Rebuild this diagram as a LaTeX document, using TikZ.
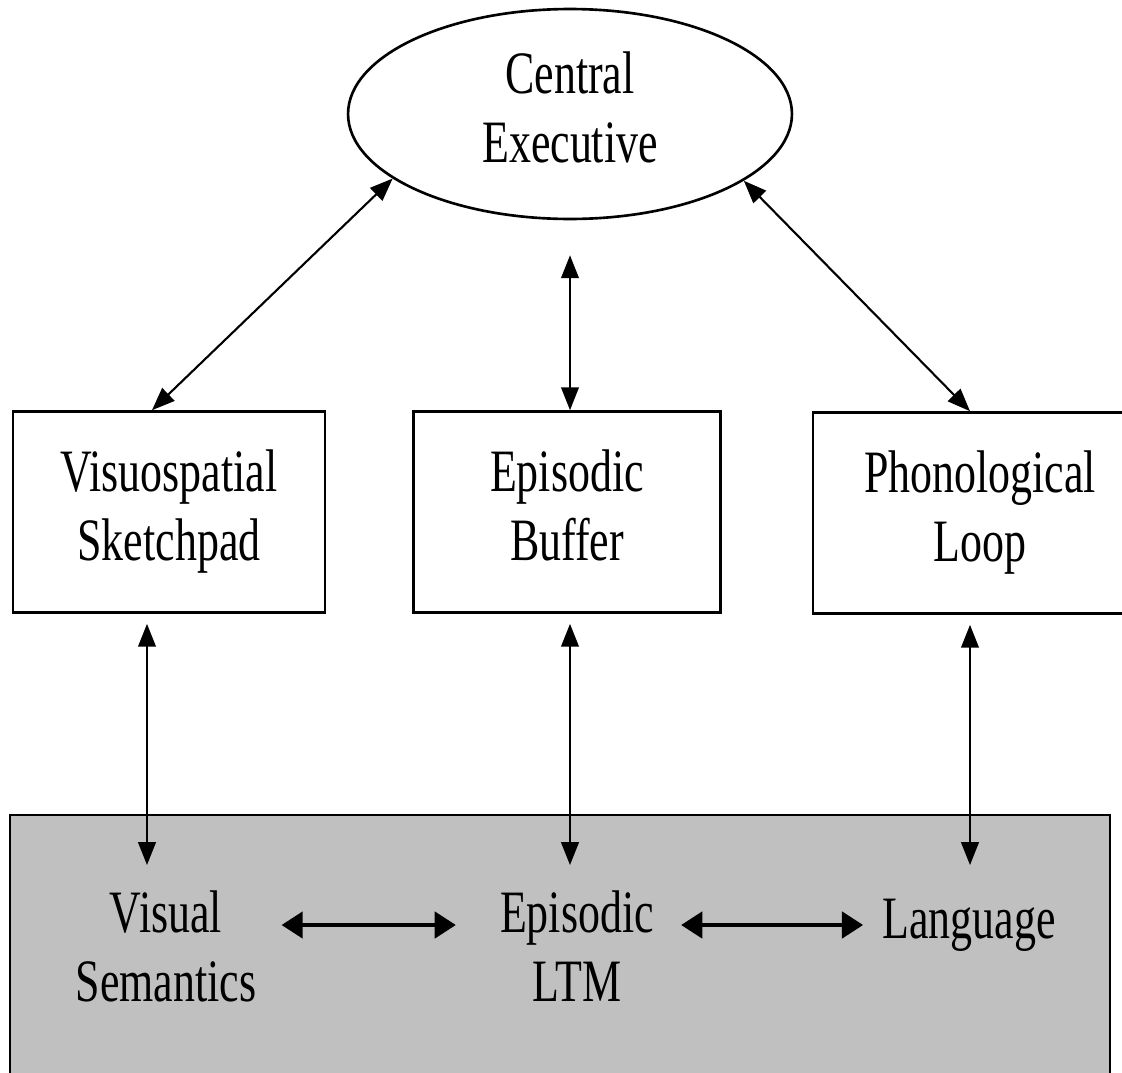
\documentclass[tikz,border=0pt]{standalone}
\usepackage{fontspec}
\setmainfont{Liberation Serif}
\usepackage{graphicx}
\usetikzlibrary{shapes,arrows.meta,calc}

\definecolor{ltmgray}{HTML}{C0C0C0}
\newcommand{\memlabel}[1]{\scalebox{1}[1.37]{\begin{tabular}{@{}c@{}}#1\end{tabular}}}

\begin{document}
\begin{tikzpicture}[
    x=0.02cm, y=-0.02cm,
    every node/.append style = {font=\fontsize{25}{28.5}\selectfont},
    slave/.style = {draw, line width=1.5pt, rectangle, inner sep=0pt,
      minimum height=4.02cm},
    link/.style = {{Triangle[length=13pt,width=10pt]}-{Triangle[length=13pt,width=10pt]},
      line width=1.2pt},
    assoc/.style = {{Triangle[length=12pt,width=15pt]}-{Triangle[length=12pt,width=15pt]},
      line width=2pt},
    plain/.style = {inner sep=0pt}
  ]
  \useasboundingbox (0,0) rectangle (1122,1072);
  % long-term memory
  \filldraw[fill=ltmgray, line width=1.5pt] (10,815) rectangle (1110,1095);
  \node[plain] (vsem) at (166,953) {\memlabel{Visual\\Semantics}};
  \node[plain] (epi) at (577,953) {\memlabel{Episodic\\LTM}};
  \node[plain] (lang) at (969,925) {\memlabel{Language}};
  % working memory
  \node[draw, ellipse, line width=1.5pt, inner sep=0pt, minimum width=8.88cm,
    minimum height=4.2cm] (ce) at (570,114) {\memlabel{Central\\Executive}};
  \node[slave, minimum width=6.24cm] (vs) at (169,512)
    {\memlabel{Visuospatial\\Sketchpad}};
  \node[slave, minimum width=6.14cm] (eb) at (567,512)
    {\memlabel{Episodic\\Buffer}};
  \node[slave, minimum width=6.68cm] (pl) at (980,513)
    {\memlabel{Phonological\\Loop}};
  % executive links
  \draw[link] (ce.200) -- ($(vs.north)+(-17,0)$);
  \draw[link, shorten <=0.7cm] (ce.south) -- (ce.south |- eb.north);
  \draw[link] (ce.339) -- ($(pl.north)+(-10,0)$);
  % links down to LTM
  \draw[link, shorten <=0.2cm, shorten >=0.38cm] ($(vs.south)+(-22,0)$)
    coordinate (vsfoot) -- (vsfoot |- vsem.north);
  \draw[link, shorten <=0.2cm, shorten >=0.38cm] ($(eb.south)+(3,0)$)
    coordinate (ebfoot) -- (ebfoot |- epi.north);
  \draw[link, shorten <=0.2cm, shorten >=0.38cm] ($(pl.south)+(-10,0)$)
    coordinate (plfoot) -- (plfoot |- vsem.north);
  % associations inside LTM
  \draw[assoc, shorten <=0.5cm, shorten >=0.88cm]
    (vsem.east |- lang) -- (epi.west |- lang);
  \draw[assoc, shorten <=0.54cm, shorten >=0.38cm]
    (epi.east |- lang) -- (lang.west);
\end{tikzpicture}
\end{document}
